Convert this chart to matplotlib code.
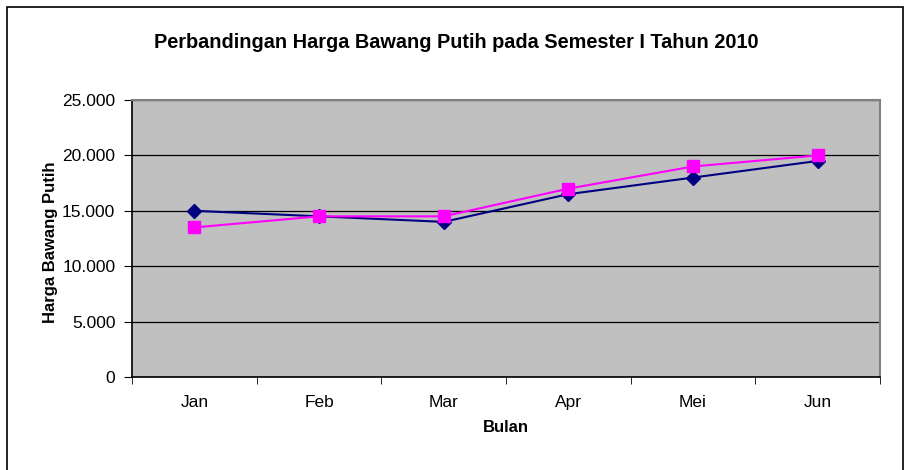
import matplotlib.pyplot as plt
from matplotlib.patches import Rectangle

# Data
bulan = ['Jan', 'Feb', 'Mar', 'Apr', 'Mei', 'Jun']
harga_1 = [15000, 14500, 14000, 16500, 18000, 19500]
harga_2 = [13500, 14500, 14500, 17000, 19000, 20000]
yticks = [0, 5000, 10000, 15000, 20000, 25000]
ytick_labels = ['0', '5.000', '10.000', '15.000', '20.000', '25.000']

plt.rcParams['font.family'] = ['Liberation Sans', 'DejaVu Sans']

W, H = 905, 470
fig = plt.figure(figsize=(W / 100, H / 100), dpi=100)
ax = fig.add_axes([132 / W, 1 - 377 / H, 748 / W, 277 / H])
ax.set_facecolor('#C0C0C0')

# chart frame
fig.patches.append(Rectangle((7 / W, -0.01), 896 / W, 1 - 7 / H + 0.01,
                             transform=fig.transFigure, fill=False,
                             edgecolor='black', linewidth=1.2))

x = list(range(len(bulan)))
ax.plot(x, harga_1, color='#000080', marker='D', markersize=7, linewidth=1.5,
        zorder=3)
ax.plot(x, harga_2, color='#FF00FF', marker='s', markersize=8.5, linewidth=1.5,
        zorder=4)

ax.set_xlim(-0.5, len(bulan) - 0.5)
ax.set_ylim(0, 25000)
ax.set_yticks(yticks)
ax.set_yticklabels(ytick_labels, fontsize=12.5)
ax.set_xticks(x)
ax.set_xticklabels(bulan, fontsize=12.5)
ax.tick_params(axis='x', length=0, pad=13)
ax.set_xticks([i - 0.5 for i in range(len(bulan) + 1)], minor=True)
ax.tick_params(axis='x', which='minor', length=5, direction='out')
ax.tick_params(axis='y', length=6, direction='out', pad=6)

ax.grid(axis='y', color='black', linewidth=0.9)
ax.set_axisbelow(True)

ax.spines['top'].set_color('#808080')
ax.spines['right'].set_color('#808080')
ax.spines['top'].set_linewidth(1.5)
ax.spines['right'].set_linewidth(1.5)
ax.spines['left'].set_linewidth(1.2)
ax.spines['bottom'].set_linewidth(1.2)

fig.text(506 / W, 1 - 428 / H, 'Bulan', ha='center', va='center',
         fontsize=12, fontweight='bold')
fig.text(50 / W, 1 - 242 / H, 'Harga Bawang Putih', ha='center', va='center',
         rotation=90, fontsize=12, fontweight='bold')
fig.text(456 / W, 1 - 42 / H, 'Perbandingan Harga Bawang Putih pada Semester I Tahun 2010',
         ha='center', va='center', fontsize=14.3, fontweight='bold')

fig.savefig('out.png', dpi=100)
